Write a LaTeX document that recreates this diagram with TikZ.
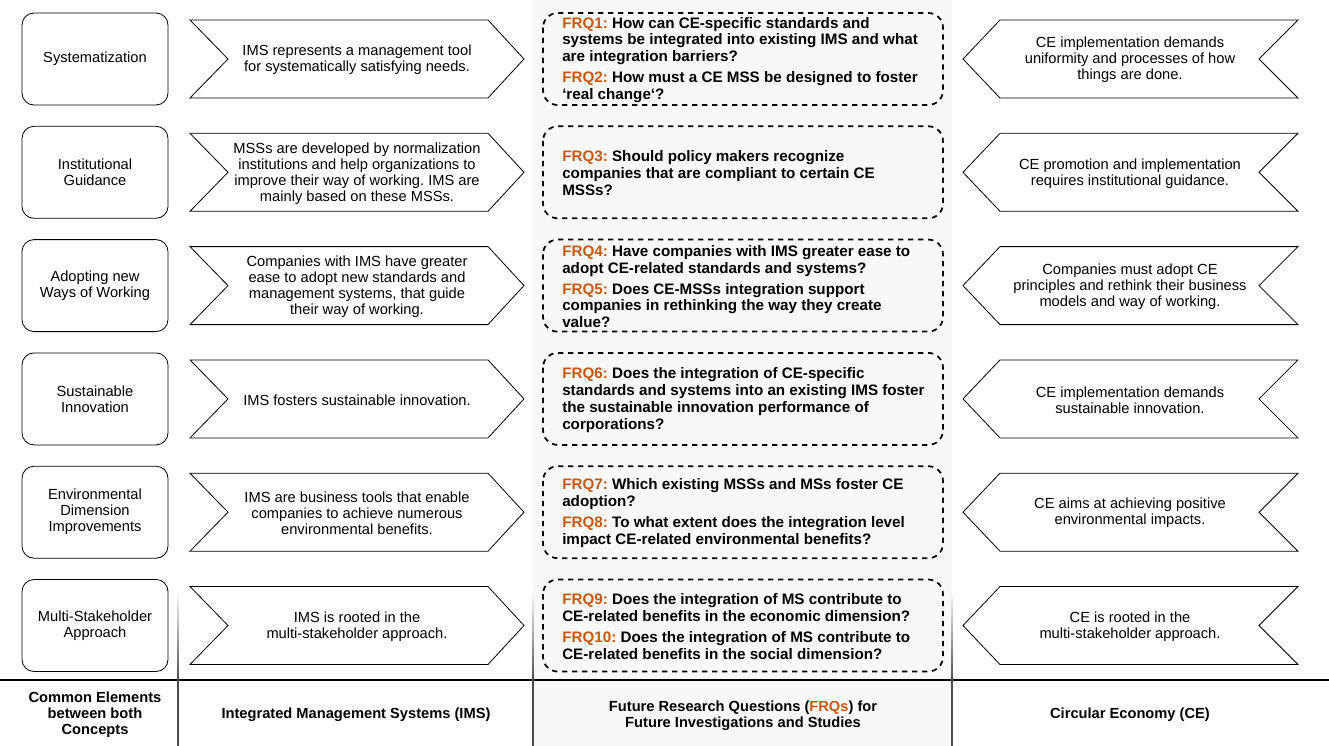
\documentclass[tikz,border=0pt]{standalone}
\usepackage{fontspec}
\setmainfont{Liberation Sans}
\frenchspacing
\definecolor{frqorange}{RGB}{197,90,17}
\definecolor{colgray}{RGB}{248,248,248}
\newcommand{\frq}[1]{\textcolor{frqorange}{FRQ#1:}}
% one row: name, y, common element, IMS text, FRQ text, CE text
\newcommand{\conceptrow}[6]{%
  \node[elembox] (elem#1) at (95,#2) {#3};
  \draw[chev] (190,#2-39) -- (488,#2-39) -- (524,#2) -- (488,#2+39) -- (190,#2+39) -- (228,#2) -- cycle;
  \node[chevtext] (ims#1) at (357,#2+1) {#4};
  \draw[frqbox] (543,#2-46) rectangle (943,#2+46);
  \node[frqtext] (frq#1) at (562,#2+1) {#5};
  \draw[chev] (1298,#2-39) -- (1000,#2-39) -- (963,#2) -- (1000,#2+39) -- (1298,#2+39) -- (1259,#2) -- cycle;
  \node[chevtext] (ce#1) at (1130,#2+1) {#6};
}
\begin{document}
\begin{tikzpicture}[x=0.75pt,y=-0.75pt,
  elembox/.style={draw,line width=0.6pt,rounded corners=9pt,minimum width=109.5pt,minimum height=69pt,
    align=center,font=\fontsize{11}{12}\selectfont},
  chev/.style={draw,line width=0.6pt},
  chevtext/.style={align=center,inner sep=0pt,font=\fontsize{11}{12}\selectfont},
  frqbox/.style={draw,line width=1.3pt,dash pattern=on 4pt off 3.5pt,rounded corners=11pt},
  frqtext/.style={anchor=west,align=left,inner sep=0pt,font=\fontsize{11.4}{12.7}\selectfont\bfseries},
  headtext/.style={align=center,inner sep=0pt,font=\fontsize{11}{12}\selectfont\bfseries},
  sepline/.style={line width=1.2pt,black!70}]
  \useasboundingbox (0,0) rectangle (1329,746);
  \fill[white] (0,0) rectangle (1329,746);
  \fill[colgray] (533,0) rectangle (952,746);

  \conceptrow{1}{59}{Systematization}
    {IMS represents a management tool\\for systematically satisfying needs.}
    {\frq{1} How can CE-specific standards and\\systems be integrated into existing IMS and what\\are integration barriers?\\[3pt]
     \frq{2} How must a CE MSS be designed to foster\\‘real change‘?}
    {CE implementation demands\\uniformity and processes of how\\things are done.}
  \conceptrow{2}{172.3}{Institutional\\Guidance}
    {MSSs are developed by normalization\\institutions and help organizations to\\improve their way of working. IMS are\\mainly based on these MSSs.}
    {\frq{3} Should policy makers recognize\\companies that are compliant to certain CE\\MSSs?}
    {CE promotion and implementation\\requires institutional guidance.}
  \conceptrow{3}{285.6}{Adopting new\\Ways of Working}
    {Companies with IMS have greater\\ease to adopt new standards and\\management systems, that guide\\their way of working.}
    {\frq{4} Have companies with IMS greater ease to\\adopt CE-related standards and systems?\\[3pt]
     \frq{5} Does CE-MSSs integration support\\companies in rethinking the way they create\\value?}
    {Companies must adopt CE\\principles and rethink their business\\models and way of working.}
  \conceptrow{4}{398.9}{Sustainable\\Innovation}
    {IMS fosters sustainable innovation.}
    {\frq{6} Does the integration of CE-specific\\standards and systems into an existing IMS foster\\the sustainable innovation performance of\\corporations?}
    {CE implementation demands\\sustainable innovation.}
  \conceptrow{5}{512.2}{Environmental\\Dimension\\Improvements}
    {IMS are business tools that enable\\companies to achieve numerous\\environmental benefits.}
    {\frq{7} Which existing MSSs and MSs foster CE\\adoption?\\[3pt]
     \frq{8} To what extent does the integration level\\impact CE-related environmental benefits?}
    {CE aims at achieving positive\\environmental impacts.}
  \conceptrow{6}{625.5}{Multi-Stakeholder\\Approach}
    {IMS is rooted in the\\multi-stakeholder approach.}
    {\frq{9} Does the integration of MS contribute to\\CE-related benefits in the economic dimension?\\[3pt]
     \frq{10} Does the integration of MS contribute to\\CE-related benefits in the social dimension?}
    {CE is rooted in the\\multi-stakeholder approach.}

  % column captions
  \draw[line width=1.5pt] (0,680) -- (1329,680);
  \foreach \x in {178,533,952} {
    \shade[top color=white,bottom color=black!70] (\x-0.8,590) rectangle (\x+0.8,680);
    \draw[sepline] (\x,680) -- (\x,746);
  }
  \node[headtext] (hcommon) at (95,715) {Common Elements\\between both\\Concepts};
  \node[headtext] (hims) at (356,715) {Integrated Management Systems (IMS)};
  \node[headtext] (hfrq) at (743,715.5) {Future Research Questions (\textcolor{frqorange}{FRQs}) for\\Future Investigations and Studies};
  \node[headtext] (hce) at (1130,715) {Circular Economy (CE)};
\end{tikzpicture}
\end{document}
